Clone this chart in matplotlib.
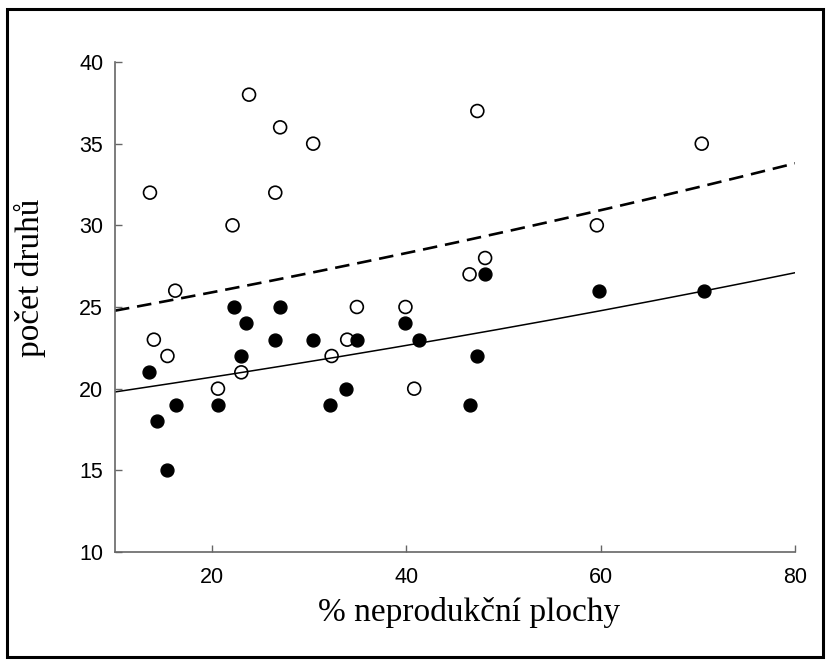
import numpy as np
import matplotlib
matplotlib.use("Agg")
import matplotlib.pyplot as plt
from matplotlib.patches import Rectangle

# open circles (total number of species)
x_open = [13.6, 14.0, 15.4, 16.2, 20.6, 22.1, 23.0, 23.8, 26.5, 27.0, 30.4,
          32.3, 33.9, 34.9, 39.9, 40.8, 46.5, 47.3, 48.1, 59.6, 70.4]
y_open = [32, 23, 22, 26, 20, 30, 21, 38, 32, 36, 35,
          22, 23, 25, 25, 20, 27, 37, 28, 30, 35]

# filled circles
x_fill = [13.5, 14.3, 15.4, 16.3, 20.6, 22.2, 23.0, 23.5, 26.5, 27.0, 30.4,
          32.1, 33.8, 34.9, 39.9, 41.3, 46.5, 47.3, 48.1, 59.8, 70.6]
y_fill = [21, 18, 15, 19, 19, 25, 22, 24, 23, 25, 23,
          19, 20, 23, 24, 23, 19, 22, 27, 26, 26]

# fitted log-linear (Poisson) curves: y = exp(b0 + b1*x)
fit_open = (3.1655, 0.004436)
fit_fill = (2.9408, 0.004483)

x_ticks = [20, 40, 60, 80]
y_ticks = [10, 15, 20, 25, 30, 35, 40]

fig = plt.figure(figsize=(8.3, 6.64), dpi=100)
ax = fig.add_axes([115 / 830, 1 - 552 / 664, 680 / 830, 490 / 664])

xs = np.linspace(10, 80, 200)
ax.plot(xs, np.exp(fit_open[0] + fit_open[1] * xs), color="black", lw=1.9,
        dashes=(5.5, 3.0), zorder=2)
ax.plot(xs, np.exp(fit_fill[0] + fit_fill[1] * xs), color="black", lw=1.1,
        zorder=2)

ax.scatter(x_open, y_open, s=86, facecolors="none", edgecolors="black",
           linewidths=1.2, zorder=3)
ax.scatter(x_fill, y_fill, s=86, color="black", zorder=4)

ax.set_xlim(10, 80)
ax.set_ylim(10, 40)
ax.set_xticks(x_ticks)
ax.set_yticks(y_ticks)

for s in ["top", "right"]:
    ax.spines[s].set_visible(False)
for s in ["left", "bottom"]:
    ax.spines[s].set_color("#666666")
    ax.spines[s].set_linewidth(1.2)

ax.tick_params(direction="in", length=5, width=1, color="#666666")
ax.tick_params(axis="y", pad=8.5)
ax.tick_params(axis="x", pad=11)
for lab in ax.get_xticklabels() + ax.get_yticklabels():
    lab.set_fontfamily("Liberation Sans")
    lab.set_fontsize(15.5)

fig.text(469 / 830, 1 - 612 / 664, "% neprodukční plochy", ha="center",
         va="center", fontsize=24, family="Liberation Serif")
fig.text(30 / 830, 1 - 278 / 664, "počet druhů", ha="center", va="center",
         rotation=90, fontsize=24, family="Liberation Serif")

# black frame round the whole picture
fig.patches.append(Rectangle((7 / 830, 1 - 657 / 664), 816 / 830, 648 / 664,
                             transform=fig.transFigure, fill=False,
                             edgecolor="black", lw=2.2))

fig.savefig("out.png", dpi=100)
